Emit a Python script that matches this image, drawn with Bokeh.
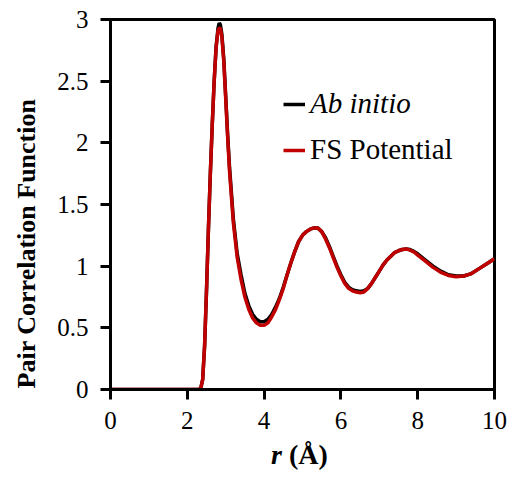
from bokeh.plotting import figure
from bokeh.models import Range1d, Legend, LegendItem, FixedTicker, Div
from bokeh.layouts import column
from bokeh.embed import file_html
from bokeh.resources import INLINE

r_vals = [0, 1, 2, 2.3, 2.35, 2.4, 2.45, 2.5, 2.55, 2.6, 2.65, 2.7, 2.75, 2.8, 2.83, 2.86,
          2.9, 2.95, 3.0, 3.05, 3.1, 3.2, 3.3, 3.4, 3.5, 3.6, 3.7, 3.8, 3.9, 4.0, 4.1, 4.2,
          4.3, 4.4, 4.5, 4.6, 4.7, 4.8, 4.9, 5.0, 5.1, 5.2, 5.3, 5.4, 5.5, 5.6, 5.7, 5.8,
          5.9, 6.0, 6.1, 6.2, 6.3, 6.4, 6.5, 6.6, 6.7, 6.8, 6.9, 7.0, 7.1, 7.2, 7.3, 7.4,
          7.5, 7.6, 7.7, 7.8, 7.9, 8.0, 8.2, 8.4, 8.6, 8.8, 9.0, 9.2, 9.4, 9.6, 9.8, 10.0]

ab_initio = [0, 0, 0, 0, 0.01, 0.08, 0.35, 0.8, 1.3, 1.75, 2.15, 2.5, 2.78, 2.93, 2.97, 2.96,
             2.88, 2.68, 2.38, 2.07, 1.8, 1.38, 1.1, 0.93, 0.78, 0.68, 0.61, 0.57, 0.55, 0.55, 0.57, 0.61,
             0.67, 0.74, 0.83, 0.93, 1.03, 1.12, 1.2, 1.25, 1.28, 1.30, 1.31, 1.31, 1.28, 1.23, 1.16, 1.08,
             1.0, 0.93, 0.87, 0.83, 0.81, 0.80, 0.795, 0.80, 0.82, 0.86, 0.91, 0.96, 1.01, 1.05, 1.08, 1.11,
             1.125, 1.135, 1.14, 1.135, 1.12, 1.10, 1.05, 1.0, 0.96, 0.93, 0.92, 0.92, 0.94, 0.98, 1.02, 1.06]

fs_potential = [0, 0, 0, 0, 0.01, 0.08, 0.35, 0.8, 1.3, 1.75, 2.15, 2.5, 2.77, 2.91, 2.93, 2.93,
                2.86, 2.66, 2.36, 2.05, 1.77, 1.35, 1.07, 0.89, 0.75, 0.65, 0.58, 0.54, 0.52, 0.52, 0.54, 0.59,
                0.65, 0.73, 0.82, 0.93, 1.03, 1.12, 1.2, 1.25, 1.28, 1.30, 1.31, 1.31, 1.28, 1.22, 1.15, 1.07,
                0.99, 0.92, 0.86, 0.82, 0.80, 0.79, 0.785, 0.79, 0.82, 0.86, 0.91, 0.96, 1.01, 1.05, 1.08, 1.11,
                1.125, 1.135, 1.14, 1.13, 1.115, 1.09, 1.04, 0.99, 0.95, 0.925, 0.915, 0.92, 0.94, 0.98, 1.02, 1.06]

x_ticks = [0, 2, 4, 6, 8, 10]
y_ticks = [0, 0.5, 1, 1.5, 2, 2.5, 3]

FONT = "Liberation Serif"

p = figure(width=508, height=442, output_backend="svg", toolbar_location=None,
           x_range=Range1d(0, 10), y_range=Range1d(0, 3),
           min_border_left=110, min_border_right=14, min_border_top=19, min_border_bottom=53)
p.background_fill_color = "white"
p.border_fill_color = "white"
p.outline_line_color = "black"
p.outline_line_width = 3
p.grid.visible = False

for ax in (p.xaxis[0], p.yaxis[0]):
    ax.axis_line_width = 3
    ax.major_tick_line_width = 3
    ax.major_tick_out = 10
    ax.major_tick_in = 0
    ax.minor_tick_out = 0
    ax.minor_tick_in = 0
    ax.major_label_text_font = FONT
    ax.major_label_text_font_size = "25px"
    ax.major_label_text_color = "black"
    ax.major_label_standoff = 12

p.xaxis[0].ticker = FixedTicker(ticks=x_ticks)
p.yaxis[0].ticker = FixedTicker(ticks=y_ticks)
p.yaxis[0].major_label_overrides = {0: "0", 0.5: "0.5", 1: "1", 1.5: "1.5", 2: "2", 2.5: "2.5", 3: "3"}
p.xaxis[0].major_label_overrides = {t: str(t) for t in x_ticks}

p.yaxis[0].axis_label = "Pair Correlation Function" + "\u00a0" * 12
p.yaxis[0].axis_label_text_font = FONT
p.yaxis[0].axis_label_text_font_size = "26px"
p.yaxis[0].axis_label_text_font_style = "bold"
p.yaxis[0].axis_label_text_color = "black"
p.yaxis[0].axis_label_standoff = 13

r1 = p.line(r_vals, ab_initio, line_color="black", line_width=3.5)
r2 = p.line(r_vals, fs_potential, line_color="#c00000", line_width=3.5)

def make_legend(label, renderer, loc, style):
    return Legend(items=[LegendItem(label=label, renderers=[renderer])], location=loc,
                  border_line_color=None, background_fill_alpha=0, padding=0, margin=0,
                  glyph_width=22, glyph_height=20, label_standoff=5, spacing=0,
                  label_text_font=FONT, label_text_font_size="29px",
                  label_text_font_style=style, label_text_color="black")

p.add_layout(make_legend("Ab initio", r1, (173, 269), "italic"), "center")
p.add_layout(make_legend("FS Potential", r2, (173, 223), "normal"), "center")

xlabel = Div(text="<i>r</i> (Å)", width=508, height=35, margin=(0, 0, 0, 0),
             styles={"font-family": FONT, "font-size": "28px", "font-weight": "bold",
                     "line-height": "26px", "padding-left": "271px", "color": "black"})

layout = column(p, xlabel, spacing=0)

open("out.html", "w").write(file_html(layout, INLINE))
